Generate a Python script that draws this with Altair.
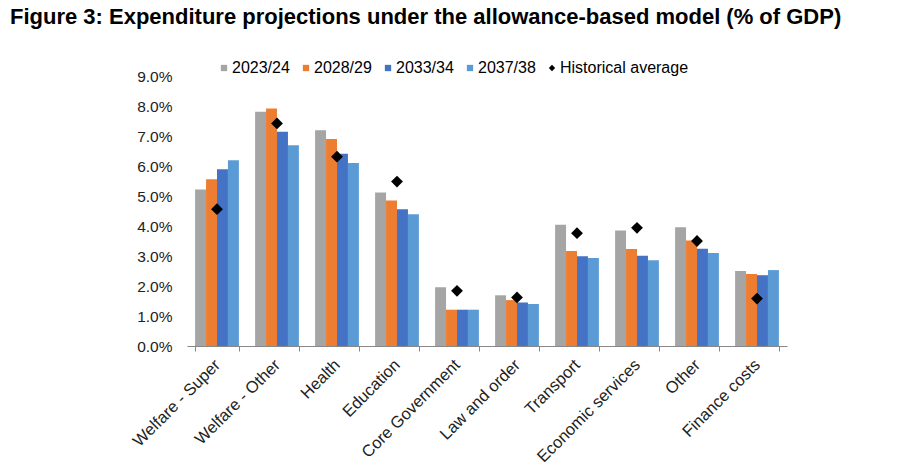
import altair as alt
import pandas as pd

categories = ["Welfare - Super", "Welfare - Other", "Health", "Education",
              "Core Government", "Law and order", "Transport",
              "Economic services", "Other", "Finance costs"]
series = ["2023/24", "2028/29", "2033/34", "2037/38"]
v2023 = [5.22, 7.81, 7.19, 5.12, 1.96, 1.69, 4.04, 3.85, 3.96, 2.50]
v2028 = [5.56, 7.92, 6.90, 4.85, 1.21, 1.53, 3.17, 3.23, 3.52, 2.40]
v2033 = [5.89, 7.14, 6.41, 4.56, 1.21, 1.45, 2.99, 3.01, 3.24, 2.36]
v2037 = [6.19, 6.69, 6.10, 4.39, 1.21, 1.40, 2.93, 2.86, 3.10, 2.53]
hist = [4.56, 7.42, 6.31, 5.48, 1.84, 1.62, 3.76, 3.94, 3.50, 1.58]
hist_label = "Historical average"

colors = ["#A5A5A5", "#ED7D31", "#4472C4", "#5B9BD5", "#000000"]
shapes = ["square", "square", "square", "square", "diamond"]
domain = series + [hist_label]

rows = []
for s, vals in zip(series, [v2023, v2028, v2033, v2037]):
    for c, v in zip(categories, vals):
        rows.append({"category": c, "series": s, "value": v})
bars_df = pd.DataFrame(rows)
hist_df = pd.DataFrame({"category": categories, "series": hist_label, "value": hist})

FONT = "Liberation Sans"

x_enc = alt.X("category:N", sort=categories,
              scale=alt.Scale(paddingInner=0.27, paddingOuter=0.135),
              axis=alt.Axis(title=None, labelAngle=315, labelAlign="right",
                            labelBaseline="middle", labelFontSize=16.5,
                            labelFont=FONT, labelColor="#222",
                            labelPadding=11, tickBand="extent", tickSize=5,
                            tickColor="#888", domainColor="#888",
                            labelOverlap=False, labelLimit=300))
y_enc = alt.Y("value:Q",
              scale=alt.Scale(domain=[0, 9], nice=False, zero=True),
              axis=alt.Axis(title=None, values=list(range(0, 10)),
                            labelExpr="format(datum.value, '.1f') + '%'",
                            labelFontSize=15.5, labelFont=FONT, labelColor="#222",
                            domain=False, ticks=False, grid=False,
                            labelPadding=15))
color_enc = alt.Color("series:N",
                      scale=alt.Scale(domain=domain, range=colors),
                      legend=alt.Legend(title=None, orient="none",
                                        legendX=29, legendY=-16,
                                        direction="horizontal", columns=5,
                                        labelFontSize=16, labelFont=FONT,
                                        labelColor="#000", symbolSize=40,
                                        symbolStrokeWidth=0, labelOffset=0,
                                        columnPadding=8))
shape_enc = alt.Shape("series:N", scale=alt.Scale(domain=domain, range=shapes))

bars = alt.Chart(bars_df).mark_bar().encode(
    x=x_enc,
    xOffset=alt.XOffset("series:N", sort=series,
                        scale=alt.Scale(paddingInner=0, paddingOuter=0)),
    y=y_enc,
    color=color_enc,
    shape=shape_enc,
)

points = alt.Chart(hist_df).mark_point(filled=True, size=140, opacity=1).encode(
    x=x_enc,
    y=y_enc,
    color=color_enc,
    shape=shape_enc,
)

chart = alt.layer(bars, points).properties(
    width=600, height=270,
    autosize=alt.AutoSizeParams(type="none"),
    padding={"left": 187, "top": 76, "right": 113, "bottom": 125},
    title=alt.TitleParams(
        "Figure 3: Expenditure projections under the allowance-based model (% of GDP)",
        anchor="start", frame="group", font=FONT, fontSize=22, fontWeight="bold",
        color="#000", dx=-177, dy=-27),
).configure_view(stroke=None)

chart.save("out.html", embed_options={"renderer": "svg", "actions": False})
